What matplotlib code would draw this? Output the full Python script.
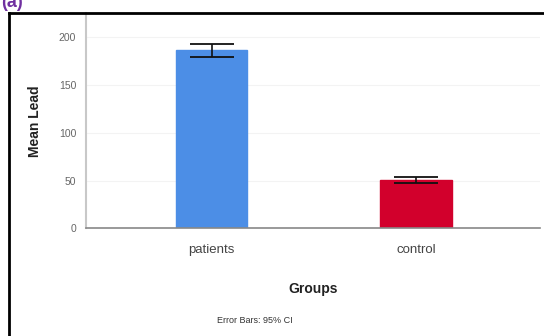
import numpy as np
import matplotlib.pyplot as plt
from matplotlib.lines import Line2D

plt.rcParams['font.family'] = ['Liberation Sans', 'DejaVu Sans']

groups = ['patients', 'control']
mean_lead = [186, 51]
ci_low = [179, 48]
ci_high = [193, 54]
bar_colors = ['#4c8ee6', '#d2002c']

fig = plt.figure(figsize=(5.44, 3.36), dpi=100)
ax = fig.add_axes([0.158, 0.320, 0.835, 0.641])

x = np.arange(len(groups))
mean = np.array(mean_lead)
yerr = [mean - np.array(ci_low), np.array(ci_high) - mean]
ax.bar(x, mean, width=0.35, color=bar_colors, edgecolor=bar_colors, zorder=2)
ax.errorbar(x, mean, yerr=yerr, fmt='none', ecolor='#111111', elinewidth=1.2,
            capsize=15.5, capthick=1.3, zorder=3)

ax.set_xlim(-0.614, 1.606)
ax.set_ylim(0, 225)
ax.set_yticks([0, 50, 100, 150, 200])
ax.set_xticks(x)
ax.set_xticklabels(groups)
ax.tick_params(axis='y', length=0, labelsize=7.5, labelcolor='#666666', pad=7)
ax.tick_params(axis='x', length=0, labelsize=9.5, labelcolor='#444444', pad=11)
for t in [50, 100, 150, 200]:
    ax.axhline(t, color='#f3f3f3', lw=0.8, zorder=0)

for s in ['top', 'right']:
    ax.spines[s].set_visible(False)
ax.spines['left'].set_color('#c8c8c8')
ax.spines['left'].set_linewidth(1.5)
ax.spines['bottom'].set_color('#888888')
ax.spines['bottom'].set_linewidth(1.2)

ax.set_ylabel('Mean Lead', fontsize=10, fontweight='bold', color='#222222', labelpad=12)
ax.set_xlabel('Groups', fontsize=10, fontweight='bold', color='#222222', labelpad=19)

fig.text(0.468, 0.047, 'Error Bars: 95% CI', fontsize=6.5, color='#333333',
         ha='center', va='center')

# frame around the panel
fig.add_artist(Line2D([9 / 544, 9 / 544], [0, 1 - 13 / 336], color='black', lw=2,
                      transform=fig.transFigure))
fig.add_artist(Line2D([9 / 544, 1], [1 - 13 / 336, 1 - 13 / 336], color='black', lw=2,
                      transform=fig.transFigure))

fig.text(0.002, 0.993, '(a)', fontsize=13, fontweight='bold', color='#7030a0',
         ha='left', va='center')

fig.savefig('out.png', dpi=100)
